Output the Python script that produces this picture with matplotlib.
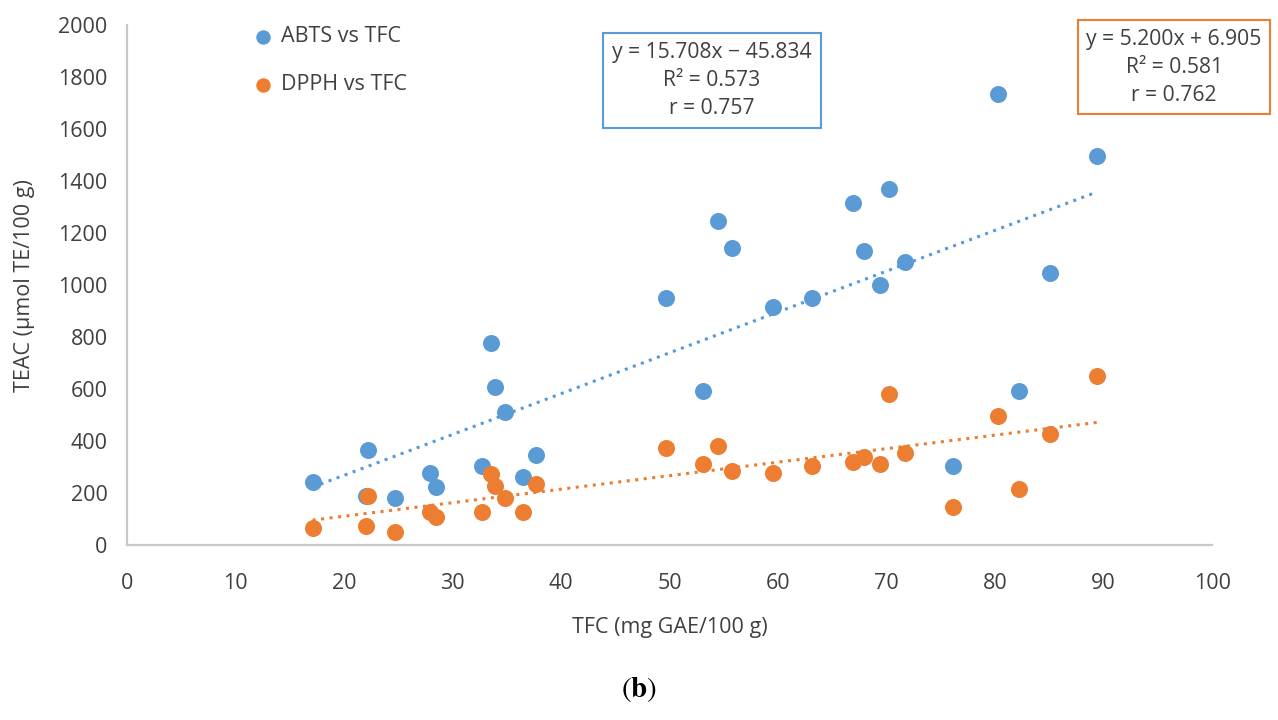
import matplotlib.pyplot as plt

plt.rcParams['font.family'] = ['Open Sans', 'DejaVu Sans']
plt.rcParams['mathtext.fontset'] = 'stix'

# TFC (mg GAE/100 g) de cada muestra
tfc = [17.1, 22.0, 22.2, 24.7, 27.9, 28.5, 32.7, 33.5, 33.9, 34.8, 36.5, 37.7,
       49.7, 53.1, 54.5, 55.8, 59.5, 63.1, 66.9, 67.9, 69.4, 70.2, 71.7,
       76.1, 80.3, 82.2, 85.1, 89.4]
# TEAC por ABTS y por DPPH (umol TE/100 g)
abts = [241, 190, 365, 180, 276, 224, 304, 776, 609, 513, 260, 346,
        949, 592, 1246, 1141, 917, 949, 1317, 1132, 1000, 1369, 1088,
        304, 1735, 592, 1045, 1497]
dpph = [67, 74, 190, 49, 128, 109, 128, 272, 227, 180, 128, 233,
        374, 312, 382, 285, 276, 304, 320, 337, 312, 581, 355,
        145, 496, 215, 426, 651]

# coeficientes de las rectas de tendencia (tal como aparecen en la figura)
abts_pendiente, abts_ordenada = 15.708, -45.834
dpph_pendiente, dpph_ordenada = 5.200, 6.905
abts_texto = 'y = 15.708x − 45.834\nR² = 0.573\nr = 0.757'
dpph_texto = 'y = 5.200x + 6.905\nR² = 0.581\nr = 0.762'

azul = '#5B9BD5'
naranja = '#ED7D31'
gris_texto = '#404040'

fig = plt.figure(figsize=(12.78, 7.2), dpi=100)
ax = fig.add_axes([0.0994, 0.243, 0.8490, 0.722])

ax.scatter(tfc, abts, s=150, color=azul, label='ABTS vs TFC', zorder=3, linewidths=0)
ax.scatter(tfc, dpph, s=150, color=naranja, label='DPPH vs TFC', zorder=3, linewidths=0)

x_min, x_max = min(tfc), max(tfc)
ax.plot([x_min, x_max],
        [abts_pendiente * x_min + abts_ordenada, abts_pendiente * x_max + abts_ordenada],
        color=azul, lw=2.2, linestyle=(0, (1, 1.8)), zorder=2)
ax.plot([x_min, x_max],
        [dpph_pendiente * x_min + dpph_ordenada, dpph_pendiente * x_max + dpph_ordenada],
        color=naranja, lw=2.2, linestyle=(0, (1, 1.8)), zorder=2)

ax.set_xlim(0, 100)
ax.set_ylim(0, 2000)
ax.set_xticks(range(0, 101, 10))
ax.set_yticks(range(0, 2001, 200))
ax.tick_params(length=0, labelsize=15.5, labelcolor=gris_texto, pad=14)
ax.tick_params(axis='x', pad=20)
for lado in ['top', 'right']:
    ax.spines[lado].set_visible(False)
for lado in ['left', 'bottom']:
    ax.spines[lado].set_color('#C8C8C8')
    ax.spines[lado].set_linewidth(1.6)

ax.set_xlabel('TFC (mg GAE/100 g)', fontsize=15.5, color=gris_texto, labelpad=17)
ax.set_ylabel('TEAC (μmol TE/100 g)', fontsize=15.5, color=gris_texto, labelpad=17)

ax.legend(loc='upper left', bbox_to_anchor=(0.088, 1.035), frameon=False,
          fontsize=15.5, labelspacing=1.25, handletextpad=-0.2, markerscale=0.85,
          labelcolor=gris_texto)

ax.text(53.9, 1788, abts_texto, ha='center', va='center', fontsize=15.2,
        color=gris_texto, linespacing=1.45,
        bbox=dict(boxstyle='square,pad=0.42', fc='white', ec=azul, lw=1.5))
ax.text(96.5, 1838, dpph_texto, ha='center', va='center', fontsize=15.2,
        color=gris_texto, linespacing=1.45, clip_on=False,
        bbox=dict(boxstyle='square,pad=0.4', fc='white', ec=naranja, lw=1.5))

fig.text(0.5, 0.042, r'$(\mathbf{b})$', ha='center', va='center', fontsize=21, color='black')

fig.savefig('out.png', dpi=100)
